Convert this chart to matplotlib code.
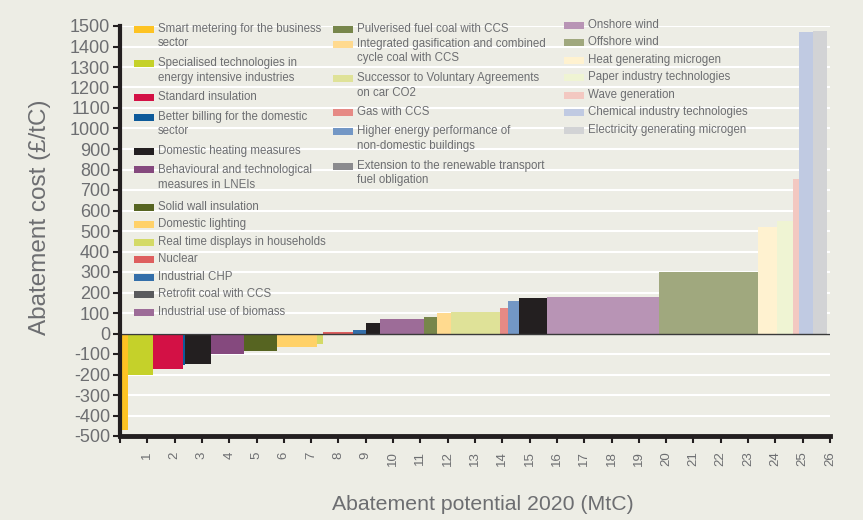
import numpy as np
import matplotlib.pyplot as plt
from matplotlib.patches import Rectangle

# ── Data ──────────────────────────────────────────────────────────────────────

measures = [
    "Smart metering for the business\nsector",
    "Specialised technologies in\nenergy intensive industries",
    "Standard insulation",
    "Better billing for the domestic\nsector",
    "Domestic heating measures",
    "Behavioural and technological\nmeasures in LNEIs",
    "Solid wall insulation",
    "Domestic lighting",
    "Real time displays in households",
    "Nuclear",
    "Industrial CHP",
    "Retrofit coal with CCS",
    "Industrial use of biomass",
    "Pulverised fuel coal with CCS",
    "Integrated gasification and combined\ncycle coal with CCS",
    "Successor to Voluntary Agreements\non car CO2",
    "Gas with CCS",
    "Higher energy performance of\nnon-domestic buildings",
    "Extension to the renewable transport\nfuel obligation",
    "Onshore wind",
    "Offshore wind",
    "Heat generating microgen",
    "Paper industry technologies",
    "Wave generation",
    "Chemical industry technologies",
    "Electricity generating microgen",
]

# abatement potential (MtC) = bar widths
potential = [0.30, 0.91, 1.10, 0.08, 0.93, 1.21, 1.21, 1.48, 0.20, 1.10,
             0.49, 0.52, 1.60, 0.49, 0.50, 1.81, 0.29, 0.39, 1.03, 4.11,
             3.61, 0.71, 0.57, 0.21, 0.53, 0.51]

# abatement cost (£/tC) = bar heights
cost = [-470, -200, -175, -155, -150, -100, -85, -65, -50, 5,
        15, 50, 70, 80, 100, 105, 125, 160, 175, 180,
        300, 520, 550, 755, 1470, 1475]

bar_colors = ["#FDC323", "#C5D12A", "#D31145", "#0D5A9A", "#231F20",
              "#85497E", "#566421", "#FFD168", "#D4DA66", "#DE5F5F",
              "#346FAA", "#231F20", "#9D6C98", "#77864B", "#FFDA8F",
              "#DFE298", "#E68A85", "#7397C5", "#231F20", "#B894B5",
              "#A0A87E", "#FFF2D0", "#EFF4D3", "#F3C8C1", "#C0CAE2",
              "#D2D3D5"]

legend_colors = list(bar_colors)
legend_colors[11] = "#5A5B5E"
legend_colors[18] = "#8B8B8E"

x_ticks = list(range(0, 27))
x_labels = [""] + [str(i) for i in range(1, 27)]
y_ticks = list(range(-500, 1501, 100))

# ── Style ─────────────────────────────────────────────────────────────────────

BG = "#EDEDE5"
TEXT = "#6D6E71"
INK = "#231F20"
plt.rcParams["font.family"] = ["Liberation Sans", "DejaVu Sans"]
plt.rcParams["axes.unicode_minus"] = False

W, H = 863, 520
fig = plt.figure(figsize=(W / 100, H / 100), dpi=100, facecolor=BG)
ax = fig.add_axes([120 / W, (H - 436) / H, 710 / W, 410 / H], facecolor=BG)

lefts = np.concatenate([[0], np.cumsum(potential)[:-1]])
ax.bar(lefts, cost, width=potential, align="edge", color=bar_colors,
       linewidth=0, zorder=2)
ax.axhline(0, color="#3A3A3A", lw=1.0, zorder=3)

ax.set_xlim(0, 26)
ax.set_ylim(-500, 1500)
ax.set_yticks(y_ticks)
ax.set_xticks(x_ticks)
ax.set_xticklabels(x_labels, rotation=90)
ax.yaxis.grid(True, color="white", lw=1.5)
ax.set_axisbelow(True)

for s in ("top", "right"):
    ax.spines[s].set_visible(False)
ax.spines["left"].set_linewidth(3)
ax.spines["bottom"].set_linewidth(3.5)
ax.spines["left"].set_color(INK)
ax.spines["bottom"].set_color(INK)
ax.spines["left"].set_zorder(4)
ax.spines["bottom"].set_zorder(4)
ax.tick_params(axis="y", length=5, width=1.5, color=INK, labelsize=13,
               labelcolor=TEXT, pad=2)
ax.tick_params(axis="x", length=5, width=1.5, color=INK, labelsize=9.5,
               labelcolor=TEXT, pad=6)

fig.text(40 / W, 1 - 217 / H, "Abatement cost (£/tC)", rotation=90,
         ha="center", va="center", fontsize=17.5, color=TEXT)
fig.text(483 / W, 1 - 504 / H, "Abatement potential 2020 (MtC)",
         ha="center", va="center", fontsize=15.3, color=TEXT)

# ── Legend (three hand-placed columns) ────────────────────────────────────────

columns = [
    (134, list(range(0, 13)), [29, 63, 97, 117, 151, 170, 207, 224, 242, 259, 277, 294, 312]),
    (333, list(range(13, 19)), [29, 44, 78, 112, 131, 166]),
    (564, list(range(19, 26)), [25, 42, 60, 77, 95, 112, 130]),
]
for x0, idx, ys in columns:
    for i, y in zip(idx, ys):
        fig.add_artist(Rectangle((x0 / W, 1 - (y + 3.5) / H), 20 / W, 7 / H,
                                 transform=fig.transFigure,
                                 color=legend_colors[i], lw=0))
        for k, line in enumerate(measures[i].split("\n")):
            fig.text((x0 + 24) / W, 1 - (y + k * 14.5) / H, line,
                     ha="left", va="center", fontsize=8.3, color=TEXT)

fig.savefig("out.png", dpi=100, facecolor=BG)
